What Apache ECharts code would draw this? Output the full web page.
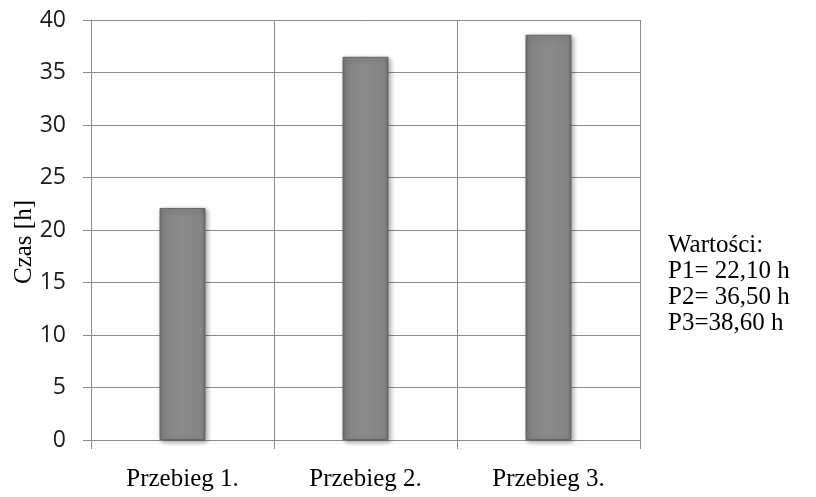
<!DOCTYPE html>
<html>
<head>
<meta charset="utf-8">
<script src="https://cdn.jsdelivr.net/npm/echarts@6/dist/echarts.min.js"></script>
<style>
  html, body { margin: 0; padding: 0; background: #fff; }
  #chart { width: 816px; height: 497px; }
</style>
</head>
<body>
<div id="chart"></div>
<script>
const categories = ['Przebieg 1.', 'Przebieg 2.', 'Przebieg 3.'];
const values = [22.1, 36.5, 38.6];
const yTicks = { min: 0, max: 40, interval: 5 };
const yName = 'Czas [h]';
const noteLines = ['Wartości:', 'P1= 22,10 h', 'P2= 36,50 h', 'P3=38,60 h'];

const chart = echarts.init(document.getElementById('chart'));

chart.setOption({
  animation: false,
  grid: { left: 91, right: 176, top: 20, bottom: 57, containLabel: false },
  xAxis: {
    type: 'category',
    data: categories,
    axisLine: { lineStyle: { color: '#8c8c8c', width: 1 } },
    axisTick: { show: true, length: 9, lineStyle: { color: '#8c8c8c' } },
    splitLine: { show: true, interval: 0, lineStyle: { color: '#8c8c8c', width: 1 } },
    axisLabel: {
      margin: 27,
      fontFamily: 'Liberation Serif',
      fontSize: 25,
      color: '#000'
    }
  },
  yAxis: {
    type: 'value',
    min: yTicks.min,
    max: yTicks.max,
    interval: yTicks.interval,
    axisLine: { show: true, lineStyle: { color: '#8c8c8c', width: 1 } },
    axisTick: { show: true, length: 8, lineStyle: { color: '#8c8c8c' } },
    splitLine: { show: true, lineStyle: { color: '#8c8c8c', width: 1 } },
    axisLabel: {
      margin: 25,
      fontFamily: 'Open Sans',
      fontSize: 23,
      color: '#1a1a1a'
    }
  },
  series: [{
    type: 'bar',
    data: values,
    barWidth: 46,
    itemStyle: {
      color: new echarts.graphic.LinearGradient(0, 0, 1, 0, [
        { offset: 0, color: '#6e6e6e' },
        { offset: 0.08, color: '#848484' },
        { offset: 0.5, color: '#8a8a8a' },
        { offset: 0.92, color: '#848484' },
        { offset: 1, color: '#6a6a6a' }
      ]),
      borderColor: '#666',
      borderWidth: 1,
      shadowBlur: 5,
      shadowColor: 'rgba(0,0,0,0.35)',
      shadowOffsetX: 2,
      shadowOffsetY: 2
    }
  }],
  graphic: [{
    type: 'text',
    x: 24,
    y: 242,
    rotation: Math.PI / 2,
    style: {
      text: yName,
      font: '25px "Liberation Serif"',
      fill: '#000',
      align: 'center',
      verticalAlign: 'middle'
    }
  }, {
    type: 'text',
    left: 668,
    top: 232,
    style: {
      text: noteLines.join('\n'),
      font: '25px "Liberation Serif"',
      lineHeight: 26,
      fill: '#000'
    }
  }]
});
</script>
</body>
</html>
